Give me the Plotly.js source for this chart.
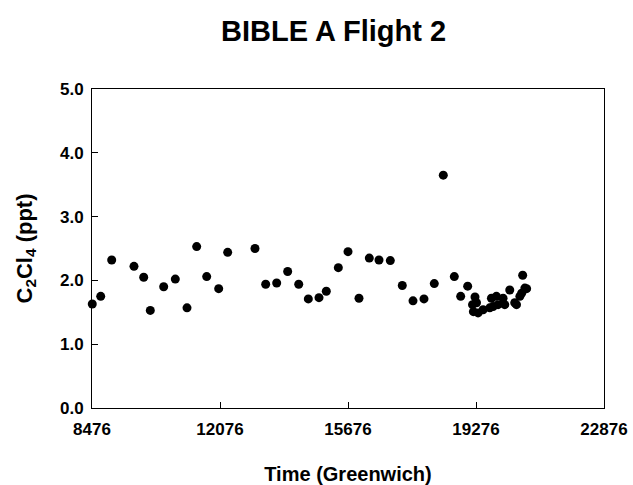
<!DOCTYPE html>
<html>
<head>
<meta charset="utf-8">
<script src="https://cdn.plot.ly/plotly-3.0.1.min.js"></script>
<style>html,body{margin:0;padding:0;background:#fff;}#chart{width:633px;height:485px;}</style>
</head>
<body>
<div id="chart"></div>
<script>
const timeGMT = [8484, 8721, 9030, 9657, 9930, 10116, 10492, 10819, 11148, 11420, 11702, 12039, 12292, 13060,
  13361, 13670, 13979, 14290, 14560, 14860, 15066, 15404, 15676, 15985, 16275, 16548, 16866, 17203, 17504, 17813,
  18103, 18356, 18666, 18845, 19042, 19178, 19203, 19248, 19290, 19335, 19475, 19663, 19710, 19757, 19850, 19897,
  20037, 20085, 20225, 20365, 20415, 20510, 20560, 20589, 20650, 20700];
const c2cl4 = [1.63, 1.75, 2.32, 2.22, 2.05, 1.53, 1.90, 2.02, 1.57, 2.53, 2.06, 1.87, 2.44, 2.50,
  1.94, 1.96, 2.14, 1.94, 1.71, 1.73, 1.83, 2.20, 2.45, 1.72, 2.35, 2.32, 2.31, 1.92, 1.68, 1.71,
  1.95, 3.65, 2.06, 1.75, 1.91, 1.62, 1.51, 1.74, 1.65, 1.49, 1.54, 1.57, 1.72, 1.59, 1.75, 1.62,
  1.72, 1.62, 1.85, 1.65, 1.62, 1.75, 1.80, 2.08, 1.88, 1.87];
const xTicks = [8476, 12076, 15676, 19276, 22876];
const yTicks = [0, 1, 2, 3, 4, 5];
const yTickText = ["0.0", "1.0", "2.0", "3.0", "4.0", "5.0"];

const FONT = "Liberation Sans, Arial, Helvetica, sans-serif";

Plotly.newPlot('chart', [{
  x: timeGMT,
  y: c2cl4,
  type: 'scatter',
  mode: 'markers',
  marker: {color: '#000', size: 9, line: {width: 0}},
  showlegend: false,
  cliponaxis: false
}], {
  width: 633, height: 485,
  paper_bgcolor: '#fff', plot_bgcolor: '#fff',
  margin: {l: 92, r: 29, t: 89, b: 77},
  font: {family: FONT, color: '#000'},
  title: {text: 'BIBLE A Flight 2', font: {family: FONT, size: 29, weight: 'bold', color: '#000'},
          x: 0.527, xanchor: 'center', y: 0.936, yanchor: 'middle'},
  xaxis: {
    range: [8476, 22876], tickvals: xTicks, ticktext: xTicks.map(String),
    ticks: 'inside', ticklen: 6, tickwidth: 1, tickcolor: '#000',
    showline: true, linecolor: '#000', linewidth: 1, mirror: true,
    showgrid: false, zeroline: false, ticklabelstandoff: 6,
    tickfont: {family: FONT, size: 17, weight: 'bold', color: '#000'},
    title: {text: 'Time (Greenwich)', font: {family: FONT, size: 20, weight: 'bold', color: '#000'}, standoff: 28}
  },
  yaxis: {
    range: [0, 5], tickvals: yTicks, ticktext: yTickText,
    ticks: 'inside', ticklen: 6, tickwidth: 1, tickcolor: '#000',
    showline: true, linecolor: '#000', linewidth: 1, mirror: true,
    showgrid: false, zeroline: false, ticklabelstandoff: 4,
    tickfont: {family: FONT, size: 17, weight: 'bold', color: '#000'},
    title: {text: 'C<sub>2</sub>Cl<sub>4</sub> (ppt)', font: {family: FONT, size: 22, weight: 'bold', color: '#000'}, standoff: 21}
  }
}, {displayModeBar: false, staticPlot: true});
</script>
</body>
</html>
